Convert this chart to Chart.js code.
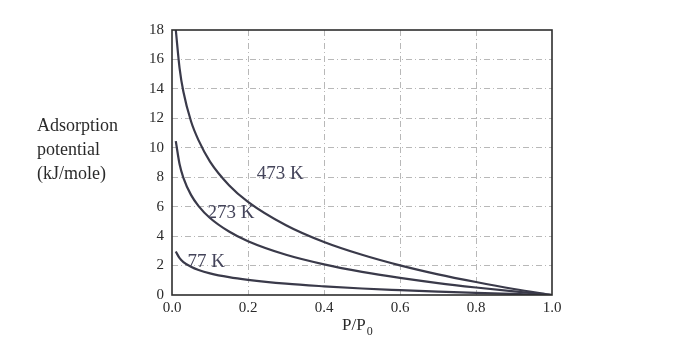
<!DOCTYPE html>
<html lang="en">
<head>
    <meta charset="UTF-8">
    <title>Adsorption potential</title>
    <script src="https://cdn.jsdelivr.net/npm/chart.js"></script>
    <style>
        body { margin: 0; background: white; }
        #wrap { width: 689px; height: 350px; }
    </style>
</head>
<body>
<div id="wrap"><canvas id="potChart" width="689" height="350"></canvas></div>
<script>
    // relative pressure values
    const pressures = [0.01, 0.02, 0.03, 0.05, 0.07, 0.1, 0.15, 0.2, 0.3, 0.4, 0.5, 0.6, 0.7, 0.8, 0.9, 1.0];
    // adsorption potential, kJ/mole
    const pot473 = [18.0, 15.4, 13.8, 11.8, 10.5, 9.06, 7.46, 6.33, 4.74, 3.60, 2.73, 2.01, 1.40, 0.88, 0.41, 0];
    const pot273 = [10.45, 8.88, 7.96, 6.80, 6.04, 5.23, 4.31, 3.65, 2.73, 2.08, 1.57, 1.16, 0.81, 0.51, 0.24, 0];
    const pot77 = [2.95, 2.50, 2.24, 1.92, 1.70, 1.47, 1.21, 1.03, 0.77, 0.59, 0.44, 0.33, 0.23, 0.14, 0.07, 0];
    const curveLabels = ['473 K', '273 K', '77 K'];
    const labelSpots = [[0.285, 8.2], [0.155, 5.55], [0.09, 2.25]];

    const ink = '#3a3a4a';
    const serif = '"Liberation Serif", "DejaVu Serif", serif';

    function toPoints(ys) {
        return pressures.map((x, i) => ({ x: x, y: ys[i] }));
    }

    // box round the plot, axis titles and curve labels
    const decorate = {
        id: 'decorate',
        afterDraw(chart) {
            const ctx = chart.ctx;
            const a = chart.chartArea;
            const xs = chart.scales.x, ys = chart.scales.y;
            ctx.save();
            ctx.strokeStyle = '#2e2e2e';
            ctx.lineWidth = 1.6;
            ctx.strokeRect(a.left, a.top, a.right - a.left, a.bottom - a.top);

            ctx.fillStyle = '#2a2a2a';
            ctx.font = '18px ' + serif;
            ctx.textAlign = 'left';
            ctx.textBaseline = 'middle';
            ctx.fillText('Adsorption', 37, 126);
            ctx.fillText('potential', 37, 150);
            ctx.fillText('(kJ/mole)', 37, 174);

            ctx.font = '17px ' + serif;
            ctx.fillText('P/P', 342, 326);
            const w = ctx.measureText('P/P').width;
            ctx.font = '12px ' + serif;
            ctx.fillText('0', 342 + w + 1, 332);

            ctx.textAlign = 'center';
            ctx.font = '19px ' + serif;
            ctx.fillStyle = '#44445a';
            curveLabels.forEach((t, i) => {
                ctx.fillText(t, xs.getPixelForValue(labelSpots[i][0]), ys.getPixelForValue(labelSpots[i][1]));
            });
            ctx.restore();
        }
    };

    const ctx = document.getElementById('potChart').getContext('2d');
    new Chart(ctx, {
        type: 'line',
        data: {
            datasets: [
                { label: '473 K', data: toPoints(pot473) },
                { label: '273 K', data: toPoints(pot273) },
                { label: '77 K', data: toPoints(pot77) }
            ].map(d => Object.assign(d, {
                borderColor: ink,
                borderWidth: 2.2,
                pointRadius: 0,
                tension: 0.4,
                cubicInterpolationMode: 'monotone',
                fill: false
            }))
        },
        options: {
            responsive: false,
            animation: false,
            layout: { padding: { left: 128, right: 137, top: 30, bottom: 30 } },
            plugins: { legend: { display: false }, tooltip: { enabled: false } },
            scales: {
                x: {
                    type: 'linear',
                    min: 0, max: 1,
                    afterFit(s) { s.height = 25; },
                    ticks: {
                        stepSize: 0.2,
                        color: '#2a2a2a',
                        padding: 4,
                        font: { family: serif, size: 15 },
                        callback: v => v.toFixed(1)
                    },
                    grid: {
                        color: c => (c.tick.value > 0 && c.tick.value < 1) ? '#b8b8b8' : 'rgba(0,0,0,0)',
                        drawTicks: false
                    },
                    border: { display: false, dash: [6, 3, 1, 3] }
                },
                y: {
                    min: 0, max: 18,
                    afterFit(s) { s.width = 44; },
                    ticks: {
                        stepSize: 2,
                        color: '#2a2a2a',
                        padding: 8,
                        font: { family: serif, size: 15 }
                    },
                    grid: {
                        color: c => (c.tick.value > 0 && c.tick.value < 18) ? '#b8b8b8' : 'rgba(0,0,0,0)',
                        drawTicks: false
                    },
                    border: { display: false, dash: [6, 3, 1, 3] }
                }
            }
        },
        plugins: [decorate]
    });
</script>
</body>
</html>
